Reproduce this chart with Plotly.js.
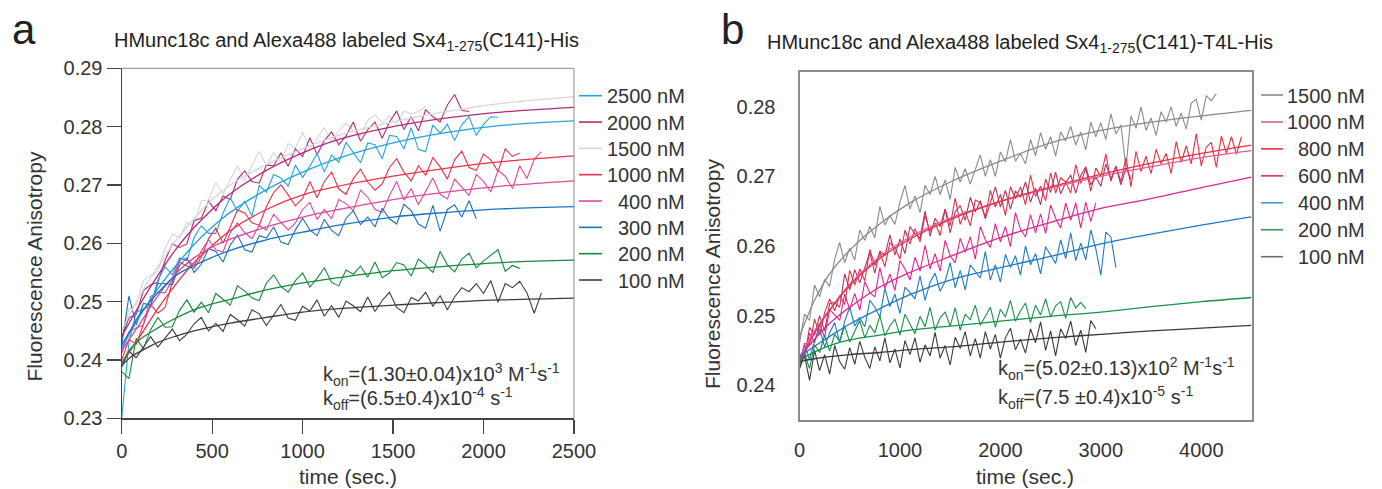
<!DOCTYPE html>
<html>
<head>
<meta charset="utf-8">
<script src="https://cdn.plot.ly/plotly-3.0.1.min.js"></script>
<style>html,body{margin:0;padding:0;background:#fff;}#chart{width:1382px;height:489px;}</style>
</head>
<body>
<div id="chart"></div>
<script>
// ---------- Panel a : time axis (s) of the recorded traces ----------
const tA = [0,40,80,120,160,200,240,280,320,360,400,440,480,520,560,600,640,680,720,760,800,840,880,920,960,1000,1040,1080,1120,1160,1200,1240,1280,1320,1360,1400,1440,1480,1520,1560,1600,1640,1680,1720,1760,1800,1840,1880,1920,1960,2000,2040,2080,2120,2160,2200,2240,2280,2320];
// panel a recorded anisotropy
const a2500 = [0.2300,0.2430,0.2482,0.2488,0.2493,0.2537,0.2560,0.2546,0.2575,0.2570,0.2610,0.2630,0.2617,0.2617,0.2652,0.2678,0.2655,0.2672,0.2647,0.2699,0.2688,0.2718,0.2712,0.2698,0.2734,0.2713,0.2732,0.2754,0.2722,0.2751,0.2739,0.2773,0.2755,0.2738,0.2772,0.2769,0.2745,0.2785,0.2783,0.2762,0.2798,0.2761,0.2757,0.2803,0.2789,0.2804,0.2776,0.2803,0.2817,0.2785,0.2804,0.2817,0.2816];
const a2000 = [0.2438,0.2472,0.2478,0.2519,0.2529,0.2533,0.2571,0.2599,0.2593,0.2599,0.2639,0.2643,0.2672,0.2656,0.2681,0.2675,0.2710,0.2724,0.2706,0.2703,0.2734,0.2733,0.2755,0.2732,0.2762,0.2749,0.2781,0.2752,0.2776,0.2791,0.2769,0.2784,0.2808,0.2775,0.2795,0.2808,0.2780,0.2808,0.2827,0.2795,0.2817,0.2793,0.2829,0.2817,0.2808,0.2837,0.2855,0.2828,0.2826];
const a1500 = [0.2440,0.2487,0.2495,0.2536,0.2545,0.2552,0.2592,0.2616,0.2609,0.2636,0.2630,0.2673,0.2674,0.2704,0.2685,0.2710,0.2733,0.2708,0.2733,0.2758,0.2733,0.2755,0.2738,0.2771,0.2763,0.2790,0.2763,0.2781,0.2798,0.2774,0.2793,0.2806,0.2793,0.2784,0.2811,0.2820,0.2807,0.2818,0.2803,0.2827,0.2822,0.2826,0.2835];
const a1000 = [0.2400,0.2435,0.2427,0.2460,0.2495,0.2480,0.2490,0.2534,0.2568,0.2561,0.2557,0.2576,0.2608,0.2626,0.2600,0.2628,0.2657,0.2652,0.2635,0.2631,0.2663,0.2687,0.2700,0.2683,0.2664,0.2677,0.2706,0.2678,0.2706,0.2722,0.2693,0.2684,0.2711,0.2727,0.2705,0.2691,0.2702,0.2730,0.2745,0.2722,0.2707,0.2733,0.2717,0.2747,0.2731,0.2710,0.2743,0.2758,0.2730,0.2725,0.2753,0.2743,0.2723,0.2762,0.2749,0.2755];
const a400 = [0.2412,0.2448,0.2455,0.2460,0.2509,0.2516,0.2515,0.2538,0.2573,0.2573,0.2561,0.2587,0.2606,0.2589,0.2585,0.2618,0.2635,0.2618,0.2608,0.2631,0.2623,0.2650,0.2636,0.2623,0.2635,0.2658,0.2670,0.2641,0.2658,0.2642,0.2675,0.2668,0.2656,0.2691,0.2679,0.2658,0.2653,0.2682,0.2706,0.2674,0.2694,0.2666,0.2689,0.2712,0.2684,0.2676,0.2710,0.2696,0.2682,0.2718,0.2706,0.2688,0.2725,0.2715,0.2694,0.2733,0.2711,0.2744,0.2757];
const a300 = [0.2425,0.2510,0.2460,0.2497,0.2494,0.2531,0.2531,0.2529,0.2562,0.2575,0.2550,0.2564,0.2591,0.2586,0.2568,0.2597,0.2614,0.2589,0.2585,0.2613,0.2609,0.2628,0.2602,0.2598,0.2623,0.2643,0.2623,0.2613,0.2641,0.2622,0.2613,0.2643,0.2656,0.2632,0.2645,0.2628,0.2660,0.2642,0.2633,0.2667,0.2656,0.2633,0.2626,0.2665,0.2621,0.2658,0.2666,0.2645,0.2673,0.2642];
const a200 = [0.2380,0.2368,0.2437,0.2419,0.2452,0.2473,0.2456,0.2457,0.2485,0.2503,0.2482,0.2499,0.2481,0.2514,0.2504,0.2494,0.2527,0.2518,0.2506,0.2502,0.2532,0.2546,0.2526,0.2516,0.2536,0.2549,0.2525,0.2540,0.2558,0.2533,0.2527,0.2554,0.2547,0.2561,0.2542,0.2568,0.2541,0.2549,0.2567,0.2563,0.2544,0.2573,0.2563,0.2550,0.2586,0.2563,0.2551,0.2573,0.2583,0.2558,0.2570,0.2580,0.2589,0.2552,0.2562,0.2557];
const a100 = [0.2388,0.2415,0.2404,0.2421,0.2440,0.2422,0.2437,0.2453,0.2433,0.2444,0.2462,0.2473,0.2450,0.2463,0.2449,0.2478,0.2469,0.2458,0.2486,0.2479,0.2459,0.2478,0.2495,0.2472,0.2468,0.2492,0.2484,0.2503,0.2475,0.2493,0.2473,0.2501,0.2493,0.2483,0.2508,0.2483,0.2502,0.2516,0.2490,0.2481,0.2507,0.2501,0.2516,0.2492,0.2510,0.2486,0.2508,0.2524,0.2517,0.2531,0.2514,0.2536,0.2499,0.2531,0.2524,0.2535,0.2515,0.2480,0.2515];
// panel a fitted curves
const fitTA = [0,50,100,200,300,400,500,600,800,1000,1200,1500,1800,2100,2500];
const fa2500 = [0.2420,0.2448,0.2475,0.2522,0.2562,0.2598,0.2628,0.2653,0.2692,0.2722,0.2746,0.2772,0.2790,0.2802,0.2810];
const fa2000 = [0.2440,0.2468,0.2495,0.2545,0.2590,0.2627,0.2658,0.2685,0.2725,0.2755,0.2778,0.2800,0.2815,0.2825,0.2833];
const fa1500 = [0.2450,0.2481,0.2510,0.2560,0.2605,0.2642,0.2675,0.2700,0.2735,0.2762,0.2785,0.2808,0.2826,0.2840,0.2851];
const fa1000 = [0.2395,0.2417,0.2440,0.2488,0.2530,0.2567,0.2596,0.2622,0.2658,0.2683,0.2698,0.2715,0.2729,0.2740,0.2750];
const fa400 = [0.2415,0.2439,0.2462,0.2510,0.2548,0.2575,0.2594,0.2607,0.2628,0.2645,0.2658,0.2675,0.2688,0.2698,0.2707];
const fa300 = [0.2425,0.2452,0.2478,0.2515,0.2545,0.2562,0.2576,0.2588,0.2606,0.2619,0.2631,0.2645,0.2653,0.2659,0.2663];
const fa200 = [0.2394,0.2420,0.2435,0.2455,0.2472,0.2486,0.2496,0.2504,0.2520,0.2532,0.2541,0.2553,0.2561,0.2567,0.2571];
const fa100 = [0.2390,0.2405,0.2414,0.2430,0.2441,0.2450,0.2457,0.2463,0.2473,0.2482,0.2488,0.2494,0.2499,0.2503,0.2506];
const labelsA = ['2500 nM','2000 nM','1500 nM','1000 nM','400 nM','300 nM','200 nM','100 nM'];

// ---------- Panel b ----------
const tB = [0,50,100,150,200,250,300,350,400,450,500,550,600,650,700,750,800,850,900,950,1000,1050,1100,1150,1200,1250,1300,1350,1400,1450,1500,1550,1600,1650,1700,1750,1800,1850,1900,1950,2000,2050,2100,2150,2200,2250,2300,2350,2400,2450,2500,2550,2600,2650,2700,2750,2800,2850,2900,2950,3000,3050,3100,3150,3200,3250,3300,3350,3400,3450,3500,3550,3600,3650,3700,3750,3800,3850,3900,3950,4000,4050,4100,4150,4200,4250,4300,4350,4400];
const b1500 = [0.2460,0.2502,0.2493,0.2544,0.2527,0.2552,0.2542,0.2581,0.2605,0.2576,0.2597,0.2580,0.2623,0.2608,0.2628,0.2612,0.2657,0.2630,0.2644,0.2631,0.2663,0.2687,0.2653,0.2672,0.2648,0.2687,0.2674,0.2700,0.2674,0.2695,0.2667,0.2713,0.2692,0.2711,0.2689,0.2711,0.2731,0.2700,0.2724,0.2700,0.2735,0.2721,0.2753,0.2722,0.2733,0.2718,0.2753,0.2730,0.2763,0.2739,0.2757,0.2729,0.2764,0.2751,0.2772,0.2745,0.2764,0.2738,0.2778,0.2757,0.2777,0.2753,0.2790,0.2761,0.2774,0.2712,0.2787,0.2769,0.2800,0.2766,0.2784,0.2759,0.2793,0.2778,0.2800,0.2772,0.2791,0.2768,0.2805,0.2811,0.2781,0.2816,0.2809,0.2819];
const b1000 = [0.2445,0.2439,0.2483,0.2472,0.2500,0.2478,0.2517,0.2519,0.2512,0.2560,0.2537,0.2566,0.2547,0.2568,0.2591,0.2561,0.2593,0.2586,0.2616,0.2587,0.2610,0.2589,0.2628,0.2617,0.2611,0.2650,0.2614,0.2640,0.2628,0.2653,0.2619,0.2649,0.2658,0.2637,0.2670,0.2649,0.2665,0.2639,0.2663,0.2685,0.2656,0.2680,0.2653,0.2679,0.2670,0.2692,0.2663,0.2683,0.2659,0.2696,0.2677,0.2706,0.2675,0.2691,0.2702,0.2676,0.2701,0.2714,0.2688,0.2699,0.2686,0.2718,0.2696,0.2714,0.2688,0.2712,0.2696];
const b800 = [0.2427,0.2460,0.2457,0.2495,0.2472,0.2504,0.2524,0.2507,0.2529,0.2516,0.2565,0.2544,0.2567,0.2550,0.2595,0.2572,0.2591,0.2570,0.2605,0.2597,0.2581,0.2623,0.2603,0.2625,0.2606,0.2644,0.2621,0.2633,0.2615,0.2653,0.2629,0.2669,0.2631,0.2650,0.2629,0.2666,0.2662,0.2642,0.2680,0.2656,0.2674,0.2644,0.2685,0.2668,0.2685,0.2659,0.2702,0.2671,0.2686,0.2665,0.2705,0.2676,0.2698,0.2692,0.2676,0.2717,0.2690,0.2712,0.2679,0.2712,0.2700,0.2732,0.2693,0.2715,0.2692,0.2727,0.2685,0.2736,0.2707,0.2729,0.2704,0.2739,0.2718,0.2733,0.2704,0.2750,0.2720,0.2744,0.2718,0.2761,0.2715,0.2742,0.2749,0.2713,0.2758,0.2733,0.2757,0.2732,0.2757];
const b600 = [0.2443,0.2439,0.2475,0.2461,0.2488,0.2469,0.2509,0.2501,0.2493,0.2531,0.2509,0.2532,0.2508,0.2549,0.2533,0.2527,0.2569,0.2539,0.2560,0.2536,0.2579,0.2567,0.2551,0.2584,0.2564,0.2601,0.2567,0.2589,0.2564,0.2608,0.2586,0.2576,0.2611,0.2591,0.2613,0.2581,0.2628,0.2609,0.2598,0.2632,0.2606,0.2628,0.2599,0.2648,0.2624,0.2613,0.2645,0.2619,0.2646,0.2618,0.2659,0.2640,0.2626,0.2662,0.2637,0.2662,0.2626,0.2663,0.2635,0.2662];
const b400 = [0.2435,0.2458,0.2437,0.2464,0.2481,0.2455,0.2475,0.2490,0.2461,0.2492,0.2512,0.2485,0.2497,0.2484,0.2522,0.2512,0.2498,0.2539,0.2513,0.2531,0.2503,0.2541,0.2533,0.2524,0.2557,0.2522,0.2548,0.2561,0.2535,0.2549,0.2576,0.2540,0.2565,0.2537,0.2573,0.2564,0.2554,0.2592,0.2551,0.2573,0.2548,0.2588,0.2569,0.2586,0.2558,0.2600,0.2573,0.2589,0.2560,0.2599,0.2587,0.2575,0.2609,0.2582,0.2619,0.2579,0.2604,0.2580,0.2623,0.2596,0.2558,0.2620,0.2613,0.2569];
const b200 = [0.2424,0.2445,0.2424,0.2458,0.2447,0.2472,0.2449,0.2473,0.2463,0.2485,0.2462,0.2478,0.2493,0.2468,0.2486,0.2475,0.2500,0.2471,0.2485,0.2495,0.2472,0.2502,0.2487,0.2474,0.2499,0.2484,0.2512,0.2479,0.2497,0.2505,0.2485,0.2511,0.2479,0.2502,0.2494,0.2515,0.2486,0.2500,0.2512,0.2483,0.2509,0.2498,0.2522,0.2492,0.2507,0.2518,0.2490,0.2515,0.2501,0.2524,0.2498,0.2514,0.2520,0.2496,0.2526,0.2511,0.2519,0.2510];
const b100 = [0.2424,0.2443,0.2407,0.2450,0.2421,0.2444,0.2416,0.2457,0.2434,0.2423,0.2454,0.2430,0.2463,0.2440,0.2424,0.2455,0.2435,0.2468,0.2432,0.2452,0.2425,0.2464,0.2444,0.2468,0.2433,0.2458,0.2442,0.2476,0.2439,0.2457,0.2429,0.2469,0.2453,0.2477,0.2442,0.2467,0.2439,0.2477,0.2452,0.2473,0.2439,0.2468,0.2482,0.2451,0.2466,0.2446,0.2481,0.2461,0.2491,0.2450,0.2478,0.2442,0.2481,0.2467,0.2492,0.2457,0.2479,0.2447,0.2493,0.2481];
const fitTB = [0,150,300,500,800,1100,1500,2000,2500,3000,3500,4000,4500];
const fb1500 = [0.2470,0.2522,0.2560,0.2594,0.2632,0.2662,0.2692,0.2722,0.2748,0.2766,0.2778,0.2787,0.2795];
const fb1000 = [0.2440,0.2478,0.2508,0.2545,0.2585,0.2613,0.2640,0.2664,0.2683,0.2700,0.2714,0.2727,0.2737];
const fb800 = [0.2435,0.2475,0.2508,0.2543,0.2582,0.2610,0.2638,0.2664,0.2685,0.2703,0.2719,0.2733,0.2745];
const fb600 = [0.2440,0.2466,0.2489,0.2512,0.2541,0.2562,0.2585,0.2612,0.2634,0.2654,0.2668,0.2684,0.2699];
const fb400 = [0.2441,0.2456,0.2470,0.2488,0.2510,0.2530,0.2551,0.2569,0.2585,0.2603,0.2617,0.2630,0.2642];
const fb200 = [0.2436,0.2448,0.2457,0.2465,0.2472,0.2479,0.2485,0.2492,0.2499,0.2505,0.2513,0.2520,0.2526];
const fb100 = [0.2434,0.2438,0.2441,0.2444,0.2447,0.2451,0.2455,0.2462,0.2468,0.2473,0.2478,0.2482,0.2486];
const labelsB = ['1500 nM','1000 nM','800 nM','600 nM','400 nM','200 nM','100 nM'];

const tickA_x = [0,500,1000,1500,2000,2500];
const tickA_y = [0.23,0.24,0.25,0.26,0.27,0.28,0.29];
const tickB_x = [0,1000,2000,3000,4000];
const tickB_y = [0.24,0.25,0.26,0.27,0.28];

// ---------- styles ----------
const colA = {c2500:'#23a3df', c2000:'#b32a7c', c1500:'#d6d6d6', c1000:'#ec3148', c400:'#e0489c', c300:'#1a72c0', c200:'#16893c', c100:'#3c3c3c'};
const colB = {c1500:'#8a8a8a', d1000:'#b8306f', f1000:'#db5ea3', c800:'#e8303f', c600:'#e0268f', c400:'#1f7ac6', c200:'#18924a', c100:'#3a3a3a'};
const legColA = [colA.c2500, colA.c2000, colA.c1500, colA.c1000, colA.c400, colA.c300, colA.c200, colA.c100];
const legColB = [colB.c1500, colB.f1000, colB.c800, colB.c600, '#4a98d6', '#2e9d5b', '#707070'];

function dataTr(t, y, color, xa, ya) {
  return {x: t.slice(0, y.length), y: y, mode: 'lines', line: {color: color, width: 1.1},
          showlegend: false, hoverinfo: 'skip', xaxis: xa, yaxis: ya};
}
function fitTr(t, y, color, name, xa, ya) {
  return {x: t, y: y, mode: 'lines', line: {color: color, width: 1.3, shape: 'spline', smoothing: 1},
          name: name, showlegend: false, hoverinfo: 'skip', xaxis: xa, yaxis: ya};
}

const traces = [
  dataTr(tA, a1500, colA.c1500, 'x', 'y'),
  dataTr(tA, a2000, colA.c2000, 'x', 'y'),
  dataTr(tA, a2500, colA.c2500, 'x', 'y'),
  dataTr(tA, a1000, colA.c1000, 'x', 'y'),
  dataTr(tA, a400, colA.c400, 'x', 'y'),
  dataTr(tA, a300, colA.c300, 'x', 'y'),
  dataTr(tA, a200, colA.c200, 'x', 'y'),
  dataTr(tA, a100, colA.c100, 'x', 'y'),
  fitTr(fitTA, fa2500, colA.c2500, labelsA[0], 'x', 'y'),
  fitTr(fitTA, fa2000, colA.c2000, labelsA[1], 'x', 'y'),
  fitTr(fitTA, fa1500, colA.c1500, labelsA[2], 'x', 'y'),
  fitTr(fitTA, fa1000, colA.c1000, labelsA[3], 'x', 'y'),
  fitTr(fitTA, fa400, colA.c400, labelsA[4], 'x', 'y'),
  fitTr(fitTA, fa300, colA.c300, labelsA[5], 'x', 'y'),
  fitTr(fitTA, fa200, colA.c200, labelsA[6], 'x', 'y'),
  fitTr(fitTA, fa100, colA.c100, labelsA[7], 'x', 'y'),

  dataTr(tB, b1500, colB.c1500, 'x2', 'y2'),
  dataTr(tB, b800, colB.c800, 'x2', 'y2'),
  dataTr(tB, b1000, colB.d1000, 'x2', 'y2'),
  dataTr(tB, b600, colB.c600, 'x2', 'y2'),
  dataTr(tB, b400, colB.c400, 'x2', 'y2'),
  dataTr(tB, b200, colB.c200, 'x2', 'y2'),
  dataTr(tB, b100, colB.c100, 'x2', 'y2'),
  fitTr(fitTB, fb1500, colB.c1500, labelsB[0], 'x2', 'y2'),
  fitTr(fitTB, fb1000, colB.f1000, labelsB[1], 'x2', 'y2'),
  fitTr(fitTB, fb800, colB.c800, labelsB[2], 'x2', 'y2'),
  fitTr(fitTB, fb600, colB.c600, labelsB[3], 'x2', 'y2'),
  fitTr(fitTB, fb400, colB.c400, labelsB[4], 'x2', 'y2'),
  fitTr(fitTB, fb200, colB.c200, labelsB[5], 'x2', 'y2'),
  fitTr(fitTB, fb100, colB.c100, labelsB[6], 'x2', 'y2')
];

const W = 1382, H = 489;
const px = v => v / W, py = v => 1 - v / H;
const FONT = 'Liberation Sans, Arial, sans-serif';
const TXT = '#333333';

const shapes = [
  {type: 'line', xref: 'x domain', yref: 'y domain', x0: 0, x1: 1, y0: 1, y1: 1, line: {color: '#8a8a8a', width: 1}},
  {type: 'line', xref: 'x domain', yref: 'y domain', x0: 1, x1: 1, y0: 0, y1: 1, line: {color: '#8a8a8a', width: 1}}
];
const annotations = [
  {text: 'a', x: px(10), y: py(29), xref: 'paper', yref: 'paper', xanchor: 'left', yanchor: 'middle', showarrow: false,
   font: {family: FONT, size: 42, color: '#222'}},
  {text: 'b', x: px(719), y: py(29), xref: 'paper', yref: 'paper', xanchor: 'left', yanchor: 'middle', showarrow: false,
   font: {family: FONT, size: 42, color: '#222'}},
  {text: 'HMunc18c and Alexa488 labeled Sx4<sub>1-275</sub>(C141)-His', x: px(112), y: py(42), xref: 'paper', yref: 'paper',
   xanchor: 'left', yanchor: 'middle', showarrow: false, font: {family: FONT, size: 20, color: '#222'}},
  {text: 'HMunc18c and Alexa488 labeled Sx4<sub>1-275</sub>(C141)-T4L-His', x: px(765), y: py(44), xref: 'paper', yref: 'paper',
   xanchor: 'left', yanchor: 'middle', showarrow: false, font: {family: FONT, size: 20, color: '#222'}},
  {text: 'Fluorescence Anisotropy', textangle: -90, x: px(34), y: py(266.5), xref: 'paper', yref: 'paper',
   xanchor: 'center', yanchor: 'middle', showarrow: false, font: {family: FONT, size: 21, color: TXT}},
  {text: 'Fluorescence Anisotropy', textangle: -90, x: px(712), y: py(274), xref: 'paper', yref: 'paper',
   xanchor: 'center', yanchor: 'middle', showarrow: false, font: {family: FONT, size: 21, color: TXT}},
  {text: 'time (sec.)', x: px(348), y: py(476), xref: 'paper', yref: 'paper', xanchor: 'center', yanchor: 'middle',
   showarrow: false, font: {family: FONT, size: 21, color: TXT}},
  {text: 'time (sec.)', x: px(1025), y: py(476), xref: 'paper', yref: 'paper', xanchor: 'center', yanchor: 'middle',
   showarrow: false, font: {family: FONT, size: 21, color: TXT}},
  {text: 'k<sub>on</sub>=(1.30±0.04)x10<sup>3</sup> M<sup>-1</sup>s<sup>-1</sup>', x: px(321), y: py(374), xref: 'paper', yref: 'paper',
   xanchor: 'left', yanchor: 'middle', showarrow: false, font: {family: FONT, size: 20, color: TXT}},
  {text: 'k<sub>off</sub>=(6.5±0.4)x10<sup>-4</sup> s<sup>-1</sup>', x: px(321), y: py(398), xref: 'paper', yref: 'paper',
   xanchor: 'left', yanchor: 'middle', showarrow: false, font: {family: FONT, size: 20, color: TXT}},
  {text: 'k<sub>on</sub>=(5.02±0.13)x10<sup>2</sup> M<sup>-1</sup>s<sup>-1</sup>', x: px(996), y: py(368), xref: 'paper', yref: 'paper',
   xanchor: 'left', yanchor: 'middle', showarrow: false, font: {family: FONT, size: 20, color: TXT}},
  {text: 'k<sub>off</sub>=(7.5 ±0.4)x10<sup>-5</sup> s<sup>-1</sup>', x: px(996), y: py(397), xref: 'paper', yref: 'paper',
   xanchor: 'left', yanchor: 'middle', showarrow: false, font: {family: FONT, size: 20, color: TXT}}
];

// legends (sample line + right-aligned label)
function addLegend(labels, colors, xs0, xs1, xr, y0, step) {
  labels.forEach((lab, i) => {
    const yy = y0 + i * step;
    shapes.push({type: 'line', xref: 'paper', yref: 'paper', x0: px(xs0), x1: px(xs1), y0: py(yy), y1: py(yy),
                 line: {color: colors[i], width: 1.6}});
    annotations.push({text: lab, x: px(xr), y: py(yy + 0.5), xref: 'paper', yref: 'paper', xanchor: 'right', yanchor: 'middle',
                      showarrow: false, font: {family: FONT, size: 20, color: TXT}});
  });
}
addLegend(labelsA, legColA, 579, 602, 687, 95.7, 26.33);
addLegend(labelsB, legColB, 1261, 1283, 1367, 95, 26.95);

const layout = {
  width: W, height: H,
  margin: {l: 0, r: 0, t: 0, b: 0},
  showlegend: false,
  paper_bgcolor: '#ffffff', plot_bgcolor: '#ffffff',
  font: {family: FONT, color: TXT, size: 20},
  xaxis: {domain: [px(121.7), px(574)], range: [0, 2500], tickvals: tickA_x, ticks: 'outside', ticklen: 14,
          tickwidth: 1.2, tickcolor: '#444', showline: true, linecolor: '#444', linewidth: 1.2,
          showgrid: false, zeroline: false, anchor: 'y', tickfont: {size: 20, color: TXT}, automargin: false},
  yaxis: {domain: [py(418.3), py(68.3)], range: [0.23, 0.29], tickvals: tickA_y, tickformat: '.2f', ticks: 'outside',
          ticklen: 14, tickwidth: 1.2, tickcolor: '#444', showline: true, linecolor: '#444', linewidth: 1.2,
          showgrid: false, zeroline: false, anchor: 'x', tickfont: {size: 20, color: TXT}, automargin: false},
  xaxis2: {domain: [px(799.5), px(1251.5)], range: [0, 4500], tickvals: tickB_x, ticks: 'outside', ticklen: 11,
           tickcolor: 'rgba(0,0,0,0)', showline: true, mirror: true, linecolor: '#8c8c8c', linewidth: 2,
           showgrid: false, zeroline: false, anchor: 'y2', tickfont: {size: 20, color: TXT}, automargin: false},
  yaxis2: {domain: [py(420), py(72)], range: [0.235, 0.285], tickvals: tickB_y, tickformat: '.2f', ticks: 'outside',
           ticklen: 18, tickcolor: 'rgba(0,0,0,0)', showline: true, mirror: true, linecolor: '#8c8c8c', linewidth: 2,
           showgrid: false, zeroline: false, anchor: 'x2', tickfont: {size: 20, color: TXT}, automargin: false},
  shapes: shapes,
  annotations: annotations
};

Plotly.newPlot('chart', traces, layout, {displayModeBar: false, staticPlot: true});
</script>
</body>
</html>
